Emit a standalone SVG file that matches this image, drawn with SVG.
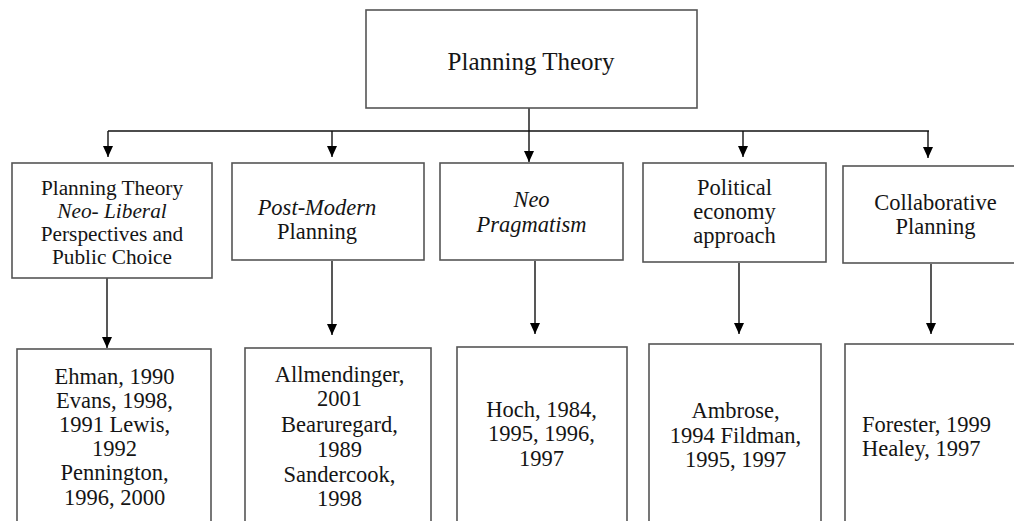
<svg xmlns="http://www.w3.org/2000/svg" width="1014" height="521" viewBox="0 0 1014 521">
<style>
.box{fill:#fff;stroke:#555;stroke-width:1.6}
.con{fill:none;stroke:#111;stroke-width:1.4}
.t{font-size:22.5px;fill:#151515;text-anchor:middle}
.sm{font-size:21.3px}
.it{font-style:italic}
.top{font-size:25px}
.st{text-anchor:start}
</style>
<defs>
<marker id="ah" viewBox="0 0 11 10" refX="11" refY="5" markerWidth="11" markerHeight="10" markerUnits="userSpaceOnUse" orient="auto">
<path d="M0,0 L11,5 L0,10 z" fill="#000"/>
</marker>
</defs>
<rect width="1014" height="521" fill="#fff"/>
<g id="connectors">
<path class="con" d="M108,131 H929"/>
<path class="con" d="M529,108 V162" marker-end="url(#ah)"/>
<path class="con" d="M108,131 V157" marker-end="url(#ah)"/>
<path class="con" d="M332,131 V157" marker-end="url(#ah)"/>
<path class="con" d="M743,131 V157" marker-end="url(#ah)"/>
<path class="con" d="M928,131 V158" marker-end="url(#ah)"/>
<path class="con" d="M107,278 V348" marker-end="url(#ah)"/>
<path class="con" d="M332,261 V335" marker-end="url(#ah)"/>
<path class="con" d="M535,261 V334" marker-end="url(#ah)"/>
<path class="con" d="M739,263 V334" marker-end="url(#ah)"/>
<path class="con" d="M931,264 V334" marker-end="url(#ah)"/>
</g>
<g id="root">
<rect class="box" x="366" y="10" width="331" height="98"/>
<text class="t top" font-family="Liberation Serif" x="531" y="70">Planning Theory</text>
</g>
<g id="neoliberal">
<rect class="box" x="12" y="163" width="200" height="115"/>
<text class="t sm" font-family="Liberation Serif" x="112" y="195">Planning Theory</text>
<text class="t sm it" font-family="Liberation Serif" x="112" y="218">Neo- Liberal</text>
<text class="t sm" font-family="Liberation Serif" x="112" y="241">Perspectives and</text>
<text class="t sm" font-family="Liberation Serif" x="112" y="264">Public Choice</text>
</g>
<g id="postmodern">
<rect class="box" x="232" y="163" width="192" height="97"/>
<text class="t it" font-family="Liberation Serif" x="317" y="215">Post-Modern</text>
<text class="t" font-family="Liberation Serif" x="317" y="239">Planning</text>
</g>
<g id="neopragmatism">
<rect class="box" x="440" y="163" width="183" height="97"/>
<text class="t it" font-family="Liberation Serif" x="531.5" y="207">Neo</text>
<text class="t it" font-family="Liberation Serif" x="531.5" y="232">Pragmatism</text>
</g>
<g id="politicaleconomy">
<rect class="box" x="643" y="163" width="183" height="99"/>
<text class="t" font-family="Liberation Serif" x="734.5" y="195">Political</text>
<text class="t" font-family="Liberation Serif" x="734.5" y="219">economy</text>
<text class="t" font-family="Liberation Serif" x="734.5" y="243">approach</text>
</g>
<g id="collaborative">
<rect class="box" x="843" y="166" width="180" height="97"/>
<text class="t" font-family="Liberation Serif" x="935.5" y="210">Collaborative</text>
<text class="t" font-family="Liberation Serif" x="935.5" y="234">Planning</text>
</g>
<g id="refs-neoliberal">
<rect class="box" x="17" y="349" width="194" height="190"/>
<text class="t" font-family="Liberation Serif" x="114.5" y="384">Ehman, 1990</text>
<text class="t" font-family="Liberation Serif" x="114.5" y="408">Evans, 1998,</text>
<text class="t" font-family="Liberation Serif" x="114.5" y="432">1991 Lewis,</text>
<text class="t" font-family="Liberation Serif" x="114.5" y="456">1992</text>
<text class="t" font-family="Liberation Serif" x="114.5" y="480">Pennington,</text>
<text class="t" font-family="Liberation Serif" x="114.5" y="505">1996, 2000</text>
</g>
<g id="refs-postmodern">
<rect class="box" x="245" y="348" width="186" height="190"/>
<text class="t" font-family="Liberation Serif" x="339.5" y="382">Allmendinger,</text>
<text class="t" font-family="Liberation Serif" x="339.5" y="406">2001</text>
<text class="t" font-family="Liberation Serif" x="339.5" y="432">Bearuregard,</text>
<text class="t" font-family="Liberation Serif" x="339.5" y="457">1989</text>
<text class="t" font-family="Liberation Serif" x="339.5" y="482">Sandercook,</text>
<text class="t" font-family="Liberation Serif" x="339.5" y="506">1998</text>
</g>
<g id="refs-neopragmatism">
<rect class="box" x="457" y="347" width="170" height="190"/>
<text class="t" font-family="Liberation Serif" x="541.5" y="417">Hoch, 1984,</text>
<text class="t" font-family="Liberation Serif" x="541.5" y="441">1995, 1996,</text>
<text class="t" font-family="Liberation Serif" x="541.5" y="466">1997</text>
</g>
<g id="refs-politicaleconomy">
<rect class="box" x="649" y="344" width="172" height="190"/>
<text class="t" font-family="Liberation Serif" x="735.5" y="418">Ambrose,</text>
<text class="t" font-family="Liberation Serif" x="735.5" y="443">1994 Fildman,</text>
<text class="t" font-family="Liberation Serif" x="735.5" y="467">1995, 1997</text>
</g>
<g id="refs-collaborative">
<rect class="box" x="845" y="344" width="180" height="190"/>
<text class="t st" font-family="Liberation Serif" x="862" y="432">Forester, 1999</text>
<text class="t st" font-family="Liberation Serif" x="862" y="456">Healey, 1997</text>
</g>
</svg>
